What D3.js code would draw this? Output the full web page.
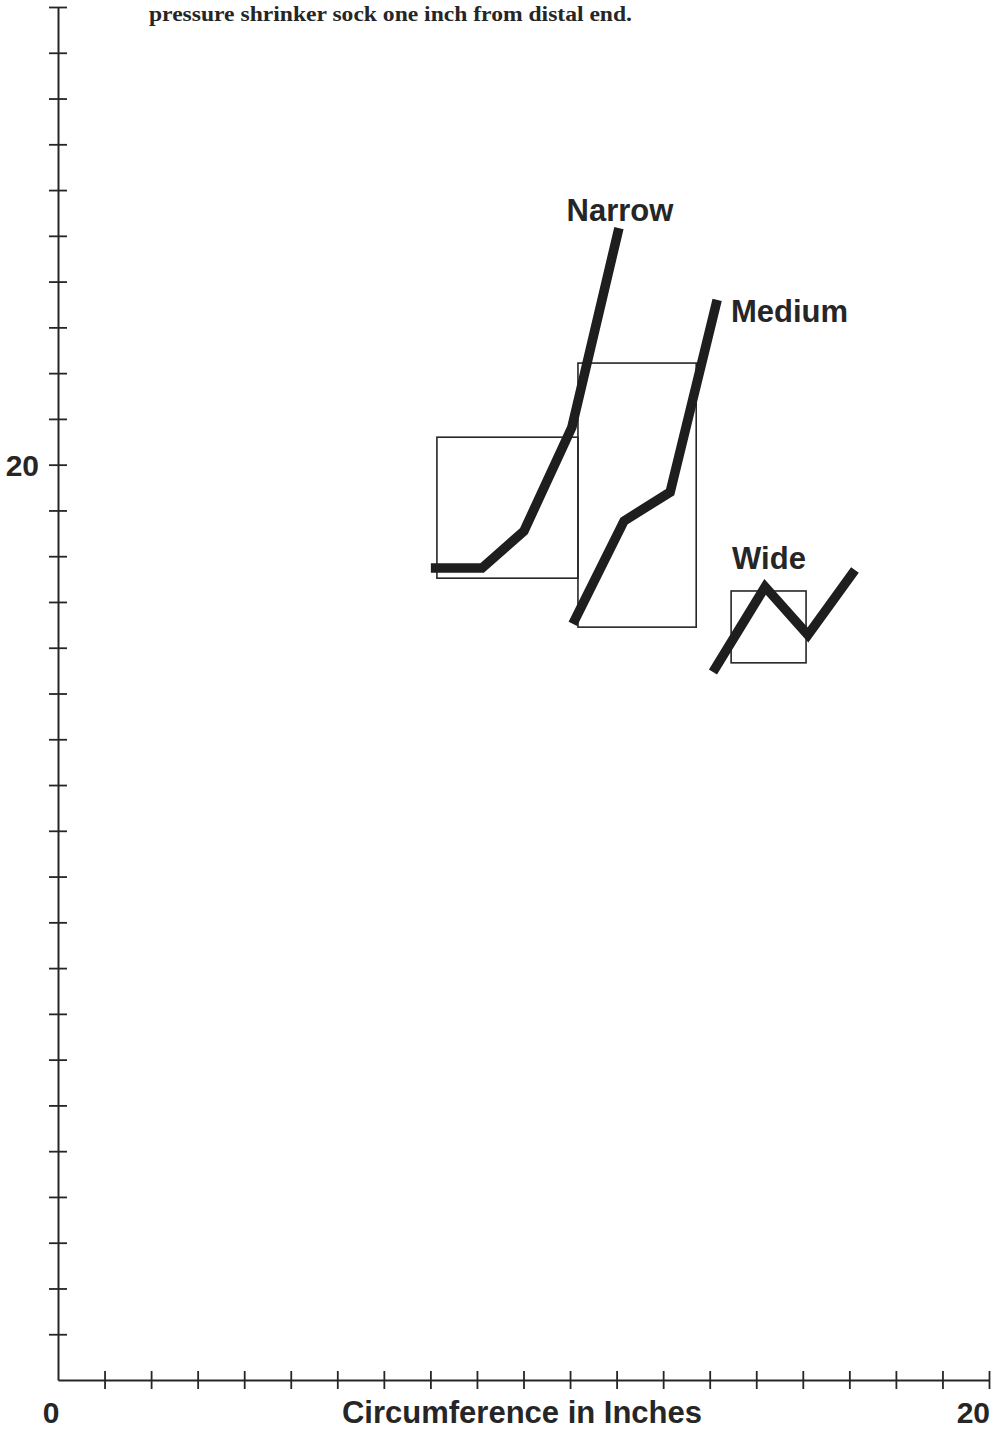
<!DOCTYPE html>
<html><head><meta charset="utf-8">
<script src="https://cdn.jsdelivr.net/npm/d3@7"></script>
<style>body{margin:0;background:#fff}svg{display:block}</style>
</head><body>
<svg id="c" width="995" height="1429"></svg>
<script>
// Data
const titleText = "pressure shrinker sock one inch from distal end.";
const xTitle = "Circumference in Inches";
const xTickValues = d3.range(0, 21, 1);
const yTickValues = d3.range(0, 31, 1);
const xTickLabels = [{v:0,t:"0"},{v:20,t:"20"}];
const yTickLabels = [{v:20,t:"20"}];

const seriesNames = ["Narrow", "Medium", "Wide"];
const narrowX = [8.01, 9.11, 10.01, 11.04, 12.05];
const narrowY = [17.74, 17.74, 18.55, 20.82, 25.17];
const mediumX = [11.06, 12.16, 13.15, 14.16];
const mediumY = [16.52, 18.77, 19.40, 23.60];
const wideX = [14.07, 15.19, 16.11, 17.12];
const wideY = [15.47, 17.33, 16.28, 17.70];

// range boxes per series: [x0, x1, y0, y1]
const boxX0 = [8.14, 11.17, 14.46];
const boxX1 = [11.17, 13.71, 16.07];
const boxY0 = [17.52, 16.45, 15.67];
const boxY1 = [20.60, 22.22, 17.24];

const svg = d3.select("#c");
const x = d3.scaleLinear().domain([0, 20]).range([58, 989]);
const y = d3.scaleLinear().domain([0, 30]).range([1380, 7]);
const ink = "#262626";

// title
svg.append("text").attr("x", 149).attr("y", 21)
  .attr("font-family", "'Liberation Serif', 'DejaVu Serif', serif")
  .attr("font-weight", "bold").attr("font-size", 20)
  .attr("textLength", 483).attr("lengthAdjust", "spacingAndGlyphs")
  .attr("fill", ink).text(titleText);

// axes
const xAxis = d3.axisBottom(x).tickValues(xTickValues).tickSize(0).tickFormat("");
const yAxis = d3.axisLeft(y).tickValues(yTickValues).tickSize(0).tickFormat("");
const gx = svg.append("g").attr("transform", `translate(0,${y(0)})`).call(xAxis);
const gy = svg.append("g").attr("transform", `translate(${x(0)},0)`).call(yAxis);
[gx, gy].forEach(g => g.select(".domain").attr("stroke", ink).attr("stroke-width", 2));
gx.selectAll(".tick line").attr("y1", -9).attr("y2", 9).attr("stroke", ink).attr("stroke-width", 1.8)
  .filter(d => d === 0).remove();
gy.selectAll(".tick line").attr("x1", -9).attr("x2", 9).attr("stroke", ink).attr("stroke-width", 1.8)
  .filter(d => d === 0).remove();

const fontSans = "'Liberation Sans', Arial, Helvetica, sans-serif";
svg.selectAll(".xl").data(xTickLabels).join("text")
  .attr("x", d => d.v === 0 ? x(d.v) - 7 : x(d.v) + 1)
  .attr("y", 1423).attr("text-anchor", d => d.v === 0 ? "middle" : "end")
  .attr("font-family", fontSans).attr("font-weight", "bold").attr("font-size", 30)
  .attr("fill", ink).text(d => d.t);
svg.selectAll(".yl").data(yTickLabels).join("text")
  .attr("x", 39).attr("y", d => y(d.v) + 11).attr("text-anchor", "end")
  .attr("font-family", fontSans).attr("font-weight", "bold").attr("font-size", 30)
  .attr("fill", ink).text(d => d.t);
svg.append("text").attr("x", 522).attr("y", 1423).attr("text-anchor", "middle")
  .attr("font-family", fontSans).attr("font-weight", "bold").attr("font-size", 31)
  .attr("fill", ink).text(xTitle);

// boxes
svg.selectAll(".box").data(boxX0.map((d, i) => i)).join("rect")
  .attr("x", i => x(boxX0[i])).attr("width", i => x(boxX1[i]) - x(boxX0[i]))
  .attr("y", i => y(boxY1[i])).attr("height", i => y(boxY0[i]) - y(boxY1[i]))
  .attr("fill", "none").attr("stroke", ink).attr("stroke-width", 1.6);

// lines
const series = [
  narrowX.map((v, i) => [v, narrowY[i]]),
  mediumX.map((v, i) => [v, mediumY[i]]),
  wideX.map((v, i) => [v, wideY[i]])
];
const line = d3.line().x(d => x(d[0])).y(d => y(d[1]));
svg.selectAll(".ln").data(series).join("path")
  .attr("d", line).attr("fill", "none").attr("stroke", "#1e1e1e")
  .attr("stroke-width", 9.5).attr("stroke-linejoin", "miter").attr("stroke-linecap", "butt");

// series labels
const labelPos = [
  {x: 620, y: 221, anchor: "middle"},
  {x: 731, y: 322, anchor: "start"},
  {x: 769, y: 569, anchor: "middle"}
];
svg.selectAll(".sl").data(seriesNames).join("text")
  .attr("x", (d, i) => labelPos[i].x).attr("y", (d, i) => labelPos[i].y)
  .attr("text-anchor", (d, i) => labelPos[i].anchor)
  .attr("font-family", fontSans).attr("font-weight", "bold").attr("font-size", 31)
  .attr("fill", ink).text(d => d);
</script>
</body></html>
